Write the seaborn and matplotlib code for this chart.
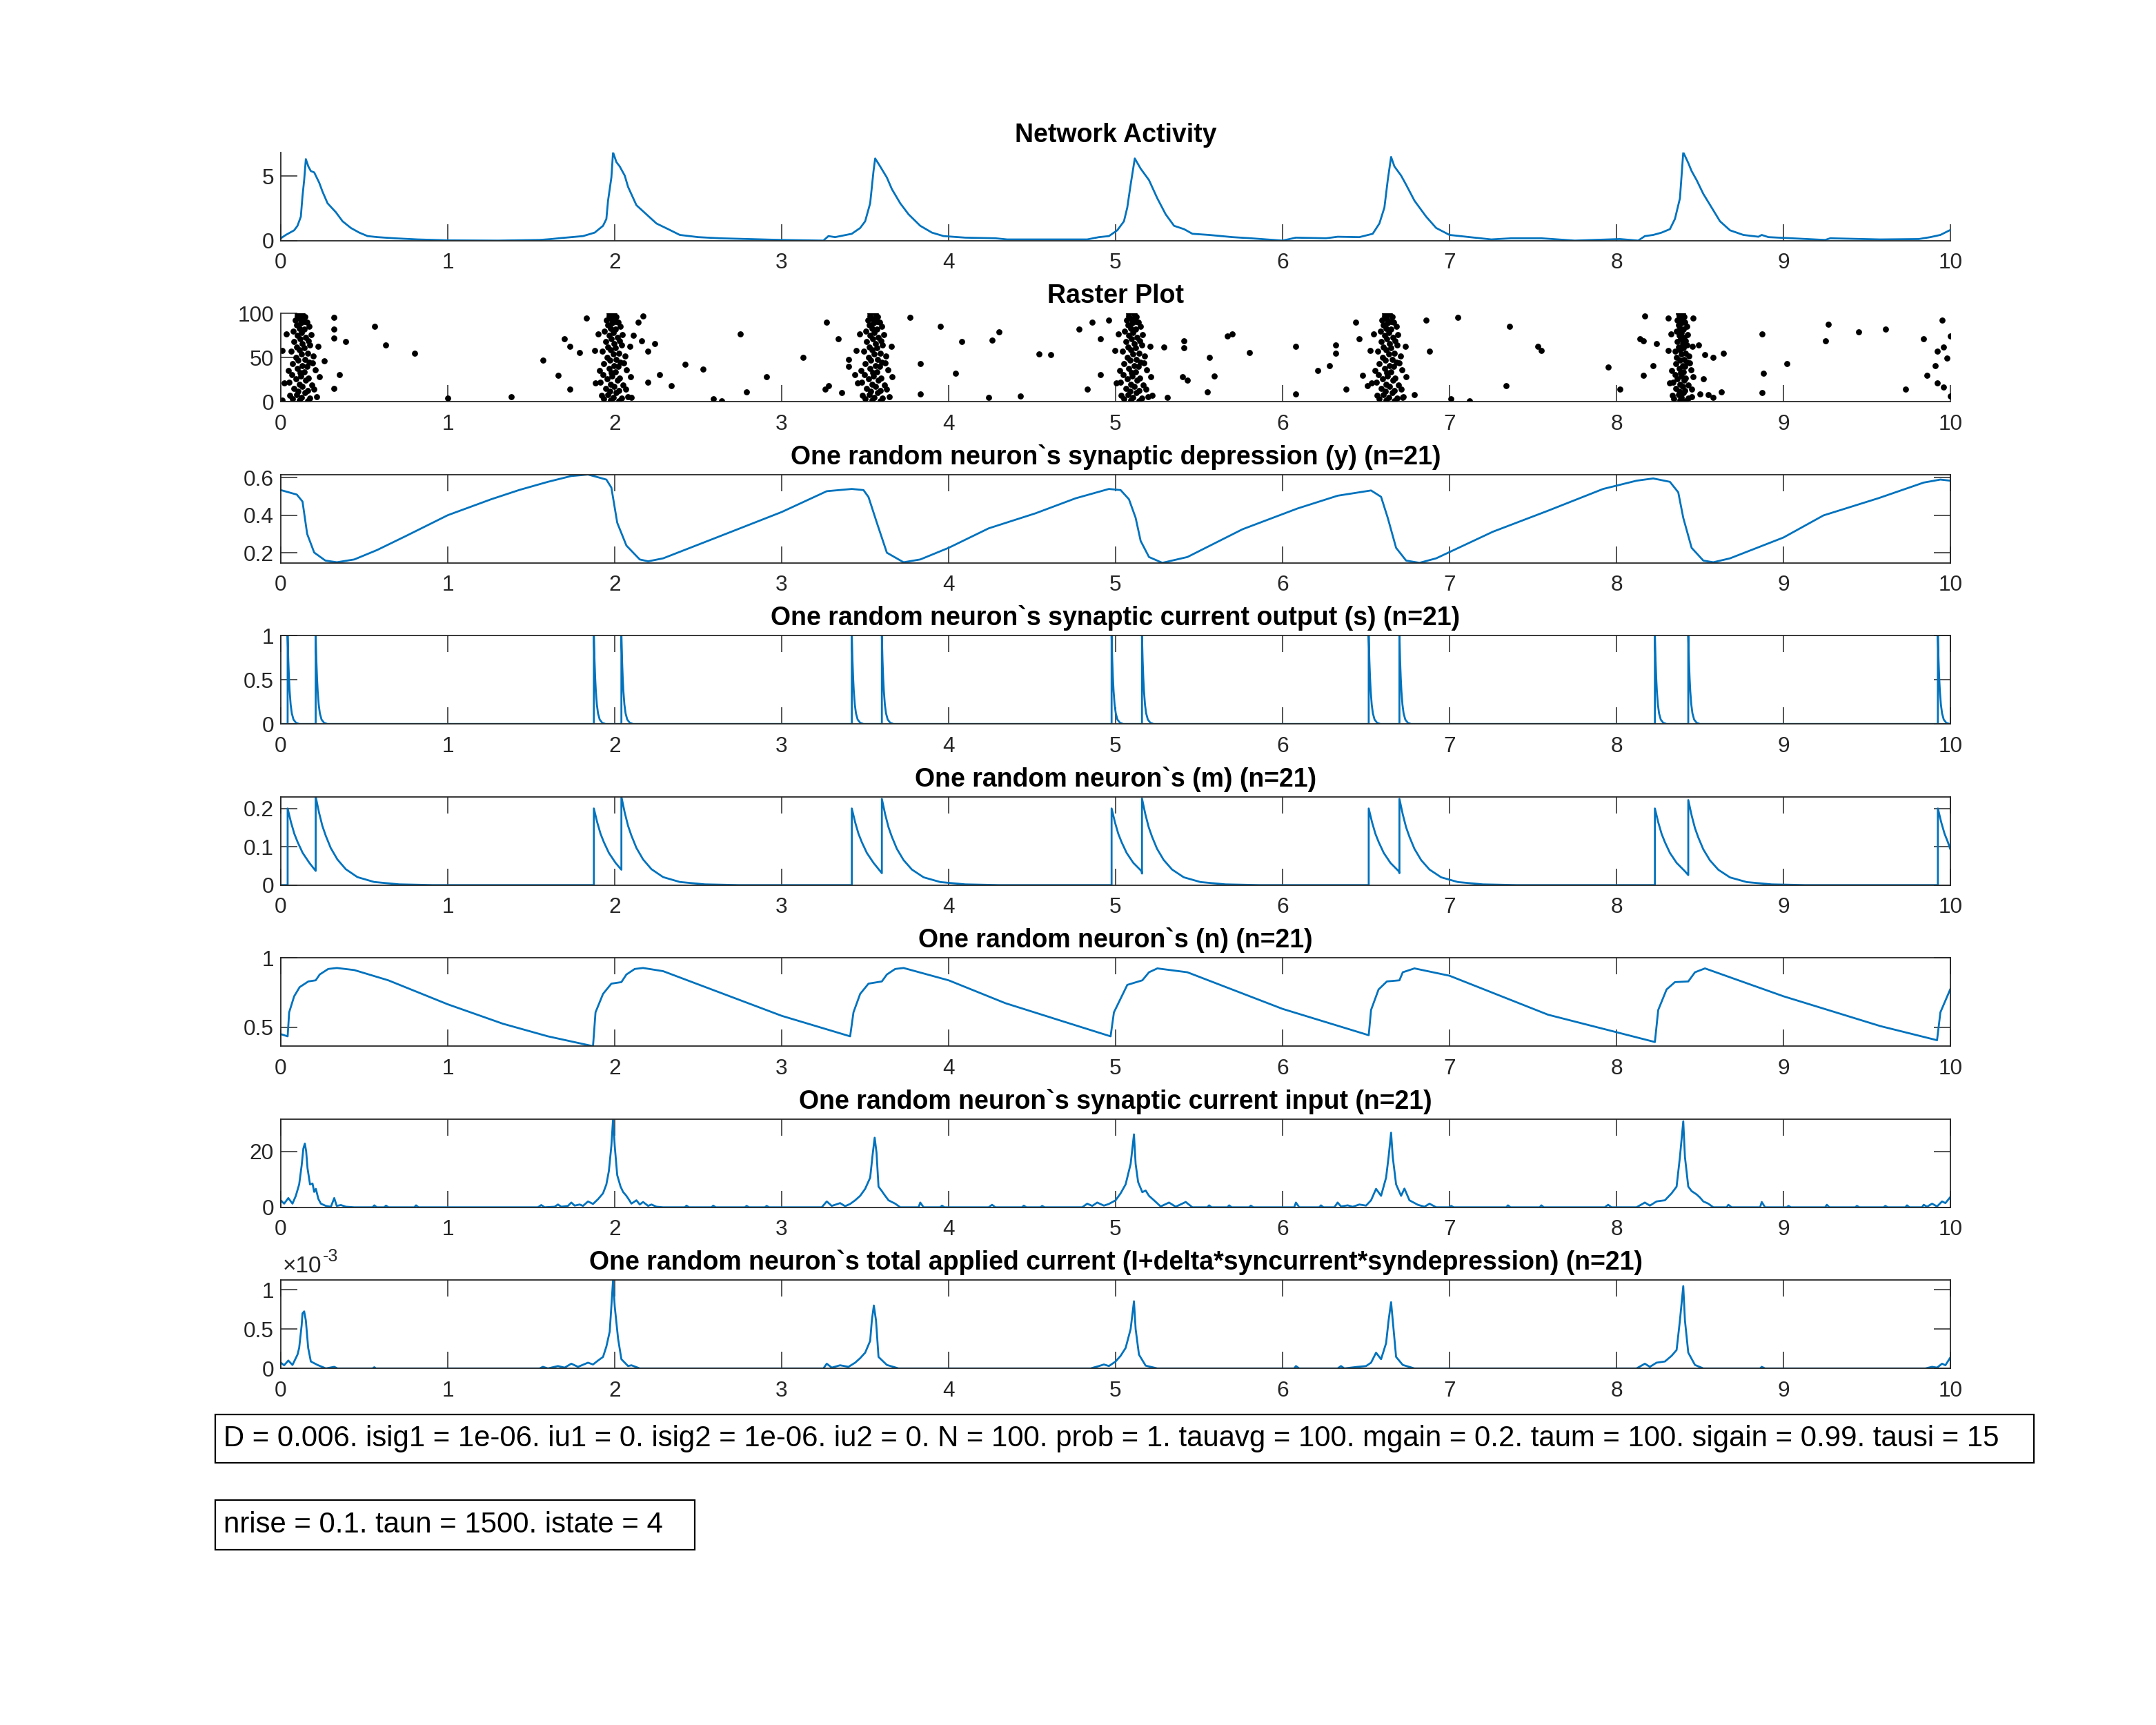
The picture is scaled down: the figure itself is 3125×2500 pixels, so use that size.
import matplotlib
matplotlib.use("Agg")
import matplotlib.pyplot as plt
import seaborn as sns
import pandas as pd
from matplotlib.patches import Rectangle

sns.set_style("white")
plt.rcParams["font.family"] = ["Liberation Sans", "DejaVu Sans"]

LINE = "#0072BD"
AXC = "#262626"
TICK_FS = 11.4
TITLE_FS = 13.5
BOX_FS = 15.1

# ---------------- data ----------------
# network activity
act_t = [0.00, 0.03, 0.08, 0.10, 0.12, 0.13, 0.14, 0.15, 0.165, 0.18, 0.20, 0.23, 0.25, 0.28, 0.33, 0.37,
         0.42, 0.47, 0.52, 0.58, 0.68, 0.82, 1.00, 1.30, 1.55, 1.62, 1.68, 1.74, 1.81, 1.88, 1.93, 1.95,
         1.96, 1.98, 1.99, 2.01, 2.03, 2.06, 2.08, 2.13, 2.19, 2.25, 2.32, 2.39, 2.50, 2.63, 2.80, 3.00,
         3.25, 3.28, 3.32, 3.37, 3.42, 3.47, 3.50, 3.53, 3.55, 3.56, 3.59, 3.63, 3.66, 3.71, 3.76, 3.83,
         3.90, 3.97, 4.10, 4.28, 4.35, 4.69, 4.83, 4.90, 4.96, 5.01, 5.05, 5.07, 5.09, 5.115, 5.15, 5.20,
         5.25, 5.30, 5.35, 5.41, 5.46, 5.56, 5.70, 5.81, 6.00, 6.08, 6.26, 6.33, 6.46, 6.54, 6.58, 6.61,
         6.63, 6.65, 6.67, 6.71, 6.74, 6.79, 6.86, 6.92, 7.00, 7.12, 7.25, 7.37, 7.55, 7.75, 8.02, 8.13,
         8.17, 8.22, 8.27, 8.32, 8.35, 8.38, 8.40, 8.43, 8.45, 8.48, 8.52, 8.57, 8.62, 8.68, 8.76, 8.85,
         8.87, 8.91, 9.05, 9.25, 9.28, 9.58, 9.81, 9.88, 9.94, 10.00]
act_v = [0.18, 0.44, 0.80, 1.15, 1.86, 3.46, 4.70, 6.33, 5.76, 5.40, 5.30, 4.50, 3.80, 2.90, 2.20, 1.50,
         0.98, 0.62, 0.35, 0.27, 0.18, 0.09, 0.02, 0.00, 0.05, 0.12, 0.20, 0.27, 0.35, 0.62, 1.15, 1.68,
         3.10, 4.90, 6.86, 6.10, 5.76, 5.05, 4.17, 2.75, 2.04, 1.33, 0.89, 0.44, 0.27, 0.18, 0.12, 0.05,
         0.00, 0.35, 0.27, 0.40, 0.53, 0.98, 1.50, 2.90, 5.40, 6.38, 5.76, 4.90, 4.00, 2.90, 2.04, 1.15,
         0.62, 0.35, 0.23, 0.18, 0.09, 0.09, 0.09, 0.27, 0.35, 0.80, 1.50, 2.57, 4.34, 6.38, 5.59, 4.70,
         3.28, 2.04, 1.15, 0.89, 0.53, 0.44, 0.27, 0.18, 0.00, 0.23, 0.18, 0.30, 0.27, 0.53, 1.33, 2.57,
         4.70, 6.50, 5.76, 5.05, 4.34, 3.10, 1.86, 0.98, 0.44, 0.27, 0.09, 0.18, 0.18, 0.00, 0.12, 0.00,
         0.35, 0.44, 0.62, 0.89, 1.68, 3.28, 6.86, 6.03, 5.40, 4.70, 3.63, 2.57, 1.50, 0.80, 0.44, 0.30,
         0.44, 0.27, 0.18, 0.05, 0.18, 0.09, 0.12, 0.27, 0.44, 0.83]

# raster: neuron ids used in each burst column, spike times per burst, and stray spikes
col_n = [99, 97, 96, 94, 92, 90, 89, 87, 85, 83, 82, 80, 78, 76, 75, 73, 71, 69, 68, 66,
         64, 62, 61, 59, 57, 55, 54, 52, 50, 48, 47, 45, 43, 41, 40, 38, 36, 34, 33, 31,
         29, 27, 26, 24, 22, 20, 19, 17, 15, 13, 12, 10, 8, 6, 5, 3, 1, 2, 100, 91,
         77, 63, 58, 44, 35, 28, 21, 14, 7, 4]
burst1_t = [0.13, 0.10, 0.145, 0.115, 0.085, 0.155, 0.12, 0.095, 0.17, 0.11,
            0.14, 0.075, 0.125, 0.18, 0.10, 0.15, 0.115, 0.165, 0.08, 0.13,
            0.175, 0.095, 0.14, 0.11, 0.06, 0.16, 0.125, 0.195, 0.09, 0.145,
            0.105, 0.17, 0.07, 0.13, 0.155, 0.10, 0.205, 0.14, 0.115, 0.065,
            0.12, 0.165, 0.09, 0.15, 0.05, 0.11, 0.185, 0.13, 0.08, 0.16,
            0.105, 0.145, 0.095, 0.215, 0.125, 0.07, 0.16, 0.11, 0.10, 0.14,
            0.035, 0.225, 0.01, 0.19, 0.045, 0.23, 0.02, 0.20, 0.055, 0.175]
burst2_t = [1.995, 1.965, 2.01, 1.98, 1.95, 2.02, 1.985, 1.96, 2.035, 1.975,
            2.005, 1.94, 1.99, 2.045, 1.965, 2.015, 1.98, 2.03, 1.945, 1.995,
            2.04, 1.96, 2.005, 1.975, 1.925, 2.025, 1.99, 2.06, 1.955, 2.01,
            1.97, 2.035, 1.935, 1.995, 2.02, 1.965, 2.07, 2.005, 1.98, 1.93,
            1.985, 2.03, 1.955, 2.015, 1.915, 1.975, 2.05, 1.995, 1.945, 2.025,
            1.97, 2.01, 1.96, 2.08, 1.99, 1.935, 2.025, 1.975, 1.965, 2.005,
            1.90, 2.09, 1.88, 2.055, 1.91, 2.095, 1.885, 2.065, 1.92, 2.04]
burst3_t = [3.56, 3.53, 3.575, 3.545, 3.515, 3.585, 3.55, 3.525, 3.60, 3.54,
            3.57, 3.505, 3.555, 3.61, 3.53, 3.58, 3.545, 3.595, 3.51, 3.56,
            3.605, 3.525, 3.57, 3.54, 3.49, 3.59, 3.555, 3.625, 3.52, 3.575,
            3.535, 3.60, 3.50, 3.56, 3.585, 3.53, 3.635, 3.57, 3.545, 3.495,
            3.55, 3.595, 3.52, 3.58, 3.48, 3.54, 3.615, 3.56, 3.51, 3.59,
            3.535, 3.575, 3.525, 3.645, 3.555, 3.50, 3.59, 3.54, 3.53, 3.57,
            3.465, 3.655, 3.445, 3.62, 3.475, 3.66, 3.455, 3.63, 3.485, 3.605]
burst4_t = [5.11, 5.08, 5.125, 5.095, 5.065, 5.135, 5.10, 5.075, 5.15, 5.09,
            5.12, 5.055, 5.105, 5.16, 5.08, 5.13, 5.095, 5.145, 5.06, 5.11,
            5.155, 5.075, 5.12, 5.09, 5.04, 5.14, 5.105, 5.175, 5.07, 5.125,
            5.085, 5.15, 5.05, 5.11, 5.135, 5.08, 5.185, 5.12, 5.095, 5.045,
            5.10, 5.145, 5.07, 5.13, 5.03, 5.09, 5.165, 5.11, 5.06, 5.14,
            5.085, 5.125, 5.075, 5.195, 5.105, 5.05, 5.14, 5.09, 5.08, 5.12,
            5.015, 5.205, 4.995, 5.17, 5.025, 5.21, 5.005, 5.18, 5.035, 5.155]
burst5_t = [6.64, 6.61, 6.655, 6.625, 6.595, 6.665, 6.63, 6.605, 6.68, 6.62,
            6.65, 6.585, 6.635, 6.69, 6.61, 6.66, 6.625, 6.675, 6.59, 6.64,
            6.685, 6.605, 6.65, 6.62, 6.57, 6.67, 6.635, 6.705, 6.60, 6.655,
            6.615, 6.68, 6.58, 6.64, 6.665, 6.61, 6.715, 6.65, 6.625, 6.575,
            6.63, 6.675, 6.60, 6.66, 6.56, 6.62, 6.695, 6.64, 6.59, 6.67,
            6.615, 6.655, 6.605, 6.725, 6.635, 6.58, 6.67, 6.62, 6.61, 6.65,
            6.545, 6.735, 6.525, 6.70, 6.555, 6.74, 6.535, 6.71, 6.565, 6.685]
burst6_t = [8.395, 8.375, 8.405, 8.385, 8.365, 8.41, 8.39, 8.37, 8.42, 8.38,
            8.40, 8.36, 8.39, 8.425, 8.375, 8.405, 8.385, 8.415, 8.365, 8.395,
            8.42, 8.37, 8.40, 8.38, 8.35, 8.415, 8.39, 8.435, 8.36, 8.405,
            8.38, 8.42, 8.355, 8.395, 8.41, 8.375, 8.445, 8.40, 8.385, 8.35,
            8.39, 8.415, 8.365, 8.405, 8.34, 8.38, 8.43, 8.395, 8.355, 8.41,
            8.375, 8.40, 8.37, 8.45, 8.39, 8.345, 8.415, 8.38, 8.37, 8.40,
            8.325, 8.455, 8.31, 8.44, 8.33, 8.46, 8.32, 8.45, 8.335, 8.43]
stray_t = [0.32, 0.32, 0.32, 0.39, 0.56, 0.63, 0.80, 0.26, 0.35, 0.32, 0.01,
           1.00, 1.38, 1.57, 1.66, 1.73, 1.70, 1.73, 1.79, 1.83, 2.17, 2.14, 2.11, 2.16, 2.24, 2.20, 2.27, 2.20, 2.34, 2.10,
           2.42, 2.53, 2.59, 2.64, 2.75, 2.79, 2.91, 3.13, 3.27, 3.34, 3.26, 3.28, 3.36, 3.40, 3.40, 3.44,
           3.77, 3.95, 3.83, 3.83, 4.04, 4.08, 4.26, 4.30, 4.24, 4.43, 4.54, 4.61, 4.78, 4.83, 4.91, 4.91, 4.86, 4.96,
           5.41, 5.41, 5.29, 5.31, 5.22, 5.40, 5.43, 5.56, 5.59, 5.55, 5.67, 5.70, 5.80, 6.08, 6.08, 6.21, 6.28, 6.32, 6.32, 6.38,
           6.44, 6.46, 6.48, 6.51, 6.88, 6.86, 6.79, 6.72, 7.05, 7.01, 7.12, 7.36, 7.34, 7.53, 7.55, 7.95, 8.02,
           8.17, 8.14, 8.16, 8.16, 8.24, 8.22, 8.31, 8.46, 8.49, 8.53, 8.58, 8.64, 8.52, 8.50, 8.55, 8.58, 8.63, 8.87, 8.88, 8.87,
           9.02, 9.25, 9.27, 9.45, 9.61, 9.73, 9.84, 9.86, 9.91, 9.92, 9.92, 9.95, 9.96, 9.96, 9.98, 10.0, 10.0]
stray_n = [95.6, 82.5, 72, 68, 85, 64, 55, 46, 31, 15, 1.5,
           4, 5.5, 47, 30, 14, 71, 63, 56, 95, 97, 90, 75, 69, 66, 57, 31, 22, 18.5, 5,
           42, 37, 3, 1, 76.5, 11, 28, 50, 90, 71, 14, 18, 10, 48, 40, 31,
           95.6, 85, 43, 9, 32, 68, 70, 79, 5, 6.5, 54, 53.5, 82, 14, 71, 31, 90, 92,
           69, 61, 62, 5, 7, 28, 24, 50, 29, 11, 74, 76.5, 56, 63, 9, 35.5, 41, 64, 55, 14,
           90, 71, 29.5, 18.5, 57, 92, 8, 5, 95.6, 3.4, 1, 85, 18.5, 63, 58, 39, 14,
           97, 71, 69, 29.5, 66, 41, 95, 95, 64, 53.5, 50, 55, 26, 9, 8, 5, 11, 76.5, 32, 10,
           43, 69, 88, 79, 82.5, 14, 71, 29.5, 40.5, 57, 21, 92, 62, 16.5, 49, 74, 6.5]

# synaptic depression y
dep_t = [0.00, 0.096, 0.13, 0.158, 0.20, 0.267, 0.336, 0.44, 0.576, 0.747, 1.00, 1.26, 1.43, 1.60, 1.74, 1.84,
         1.95, 1.98, 2.015, 2.07, 2.15, 2.20, 2.29, 2.63, 3.00, 3.27, 3.42, 3.49, 3.52, 3.57, 3.63, 3.73,
         3.83, 4.00, 4.24, 4.52, 4.76, 4.96, 5.03, 5.08, 5.12, 5.15, 5.20, 5.28, 5.43, 5.76, 6.09, 6.33,
         6.53, 6.59, 6.63, 6.68, 6.74, 6.82, 6.92, 7.26, 7.59, 7.92, 8.12, 8.22, 8.32, 8.37, 8.40, 8.45,
         8.52, 8.58, 8.68, 9.00, 9.24, 9.57, 9.84, 9.94, 10.00]
dep_v = [0.534, 0.510, 0.473, 0.300, 0.201, 0.158, 0.149, 0.164, 0.214, 0.288, 0.400, 0.485, 0.535, 0.578, 0.609, 0.617,
         0.590, 0.547, 0.360, 0.238, 0.164, 0.154, 0.170, 0.288, 0.417, 0.528, 0.540, 0.534, 0.497, 0.360, 0.200, 0.149,
         0.164, 0.226, 0.330, 0.410, 0.490, 0.540, 0.534, 0.485, 0.386, 0.263, 0.177, 0.146, 0.177, 0.325, 0.436, 0.504,
         0.532, 0.498, 0.386, 0.226, 0.158, 0.146, 0.170, 0.312, 0.424, 0.540, 0.584, 0.596, 0.578, 0.522, 0.386, 0.226,
         0.158, 0.149, 0.170, 0.281, 0.399, 0.491, 0.574, 0.590, 0.584]

# spike times of the chosen neuron (s and m jump at these)
spike_first = [0.041, 1.875, 3.42, 4.976, 6.516, 8.23, 9.925]
spike_second = [0.209, 2.04, 3.60, 5.158, 6.70, 8.43]
m_before_second = [0.037, 0.040, 0.031, 0.030, 0.031, 0.026]
m_peak_second = [0.2306, 0.2306, 0.225, 0.226, 0.225, 0.222]
m_peak_first = 0.2
m_end_value = 0.093
# decay shapes read from one spike (time after spike, fraction of the peak)
s_decay_dt = [0.0, 0.004, 0.008, 0.012, 0.018, 0.025, 0.035, 0.05, 0.07]
s_decay_val = [1.0, 0.72, 0.52, 0.37, 0.22, 0.12, 0.05, 0.013, 0.0]
m_decay_dt = [0.0, 0.02, 0.04, 0.06, 0.09, 0.13, 0.18, 0.25, 0.35, 0.5, 0.7]
m_decay_frac = [1.0, 0.82, 0.67, 0.56, 0.42, 0.29, 0.18, 0.09, 0.035, 0.008, 0.0]

# gating variable n
n_t = [0.00, 0.041, 0.05, 0.08, 0.113, 0.165, 0.209, 0.233, 0.284, 0.336, 0.44, 0.644, 1.00, 1.33, 1.60, 1.87,
       1.885, 1.93, 1.98, 2.04, 2.07, 2.12, 2.17, 2.29, 3.00, 3.41, 3.43, 3.47, 3.52, 3.60, 3.63, 3.68,
       3.73, 4.00, 4.34, 4.69, 4.97, 4.99, 5.07, 5.16, 5.20, 5.25, 5.43, 6.00, 6.516, 6.53, 6.575, 6.625,
       6.70, 6.72, 6.79, 7.00, 7.59, 8.23, 8.25, 8.30, 8.35, 8.43, 8.47, 8.53, 9.00, 9.58, 9.92, 9.94, 10.00]
n_v = [0.450, 0.434, 0.607, 0.723, 0.789, 0.830, 0.838, 0.880, 0.920, 0.927, 0.912, 0.838, 0.665, 0.525, 0.434, 0.363,
       0.607, 0.740, 0.814, 0.825, 0.880, 0.920, 0.927, 0.904, 0.582, 0.434, 0.607, 0.740, 0.814, 0.830, 0.880, 0.920,
       0.927, 0.838, 0.673, 0.540, 0.434, 0.607, 0.805, 0.838, 0.896, 0.924, 0.896, 0.632, 0.442, 0.624, 0.772, 0.830,
       0.838, 0.896, 0.924, 0.871, 0.590, 0.393, 0.624, 0.772, 0.825, 0.830, 0.896, 0.924, 0.723, 0.508, 0.406, 0.607, 0.776]

# synaptic current input
syn_t = [0.00, 0.02, 0.045, 0.07, 0.09, 0.11, 0.125, 0.135, 0.144, 0.152, 0.16, 0.175, 0.19, 0.20, 0.21, 0.225, 0.24,
         0.27, 0.30, 0.32, 0.335, 0.36, 0.39, 0.44, 0.55, 0.56, 0.575, 0.62, 0.63, 0.645, 0.80, 0.81, 0.825,
         1.54, 1.56, 1.58, 1.64, 1.66, 1.68, 1.72, 1.74, 1.76, 1.79, 1.81, 1.84, 1.87, 1.90, 1.93, 1.95, 1.965,
         1.98, 1.99, 2.00, 2.015, 2.035, 2.05, 2.07, 2.09, 2.10, 2.13, 2.15, 2.17, 2.20, 2.22, 2.25, 2.29,
         2.42, 2.43, 2.445, 2.58, 2.59, 2.605, 2.78, 2.79, 2.805, 2.90, 2.91, 2.925,
         3.24, 3.27, 3.30, 3.35, 3.38, 3.41, 3.44, 3.47, 3.50, 3.53, 3.545, 3.557, 3.568, 3.58, 3.60, 3.615, 3.64,
         3.68, 3.71, 3.82, 3.83, 3.85, 3.95, 3.96, 3.975, 4.24, 4.26, 4.28, 4.44, 4.45, 4.465, 4.55, 4.56, 4.575,
         4.80, 4.83, 4.86, 4.89, 4.93, 4.96, 5.00, 5.03, 5.06, 5.09, 5.11, 5.12, 5.135, 5.16, 5.18, 5.20, 5.23,
         5.27, 5.32, 5.36, 5.42, 5.46, 5.55, 5.56, 5.575, 5.67, 5.68, 5.695, 5.80, 5.81, 5.825,
         6.07, 6.08, 6.10, 6.22, 6.23, 6.245, 6.31, 6.33, 6.35, 6.39, 6.42, 6.46, 6.50,
         6.53, 6.56, 6.59, 6.62, 6.635, 6.65, 6.66, 6.68, 6.71, 6.73, 6.76, 6.81, 6.85, 6.88, 6.92,
         7.00, 7.01, 7.025, 7.34, 7.35, 7.365, 7.54, 7.55, 7.565, 7.93, 7.95, 7.97,
         8.12, 8.17, 8.20, 8.24, 8.29, 8.33, 8.36, 8.38, 8.40, 8.41, 8.43, 8.45, 8.48, 8.50, 8.52, 8.55, 8.58,
         8.66, 8.67, 8.69, 8.86, 8.87, 8.89, 9.02, 9.03, 9.045, 9.25, 9.26, 9.275, 9.43, 9.44, 9.455,
         9.60, 9.61, 9.625, 9.73, 9.74, 9.755, 9.83, 9.84, 9.86, 9.89, 9.92, 9.95, 9.97, 10.00]
syn_v = [2.5, 1.3, 3.3, 1.3, 4.1, 8.2, 15.0, 21.0, 22.8, 20.0, 14.0, 8.2, 8.5, 5.5, 6.6, 3.0, 1.3,
         0.5, 0.2, 3.3, 0.5, 0.8, 0.2, 0.0, 0.0, 0.7, 0.0, 0.0, 0.6, 0.0, 0.0, 0.7, 0.0,
         0.0, 0.8, 0.0, 0.2, 1.0, 0.2, 0.5, 1.7, 0.6, 1.0, 0.5, 2.1, 1.2, 2.9, 5.0, 8.2, 13.0,
         22.0, 31.6, 22.0, 11.5, 7.4, 5.5, 4.1, 2.3, 1.3, 2.5, 1.0, 1.9, 0.5, 1.0, 0.2, 0.0,
         0.0, 0.6, 0.0, 0.0, 0.6, 0.0, 0.0, 0.5, 0.0, 0.0, 0.5, 0.0,
         0.0, 2.1, 0.5, 1.5, 0.4, 1.2, 2.5, 4.1, 6.6, 10.6, 19.0, 24.9, 19.6, 7.4, 5.8, 4.5, 2.5,
         1.3, 0.0, 0.0, 1.7, 0.0, 0.0, 0.6, 0.0, 0.0, 0.9, 0.0, 0.0, 0.6, 0.0, 0.0, 0.5, 0.0,
         0.0, 1.3, 0.5, 1.7, 0.6, 1.2, 2.5, 5.0, 8.2, 15.5, 26.1, 15.5, 9.0, 5.4, 6.0, 4.1, 2.5,
         0.3, 1.7, 0.2, 1.9, 0.0, 0.0, 0.7, 0.0, 0.0, 0.7, 0.0, 0.0, 0.6, 0.0,
         0.0, 1.7, 0.0, 0.0, 0.7, 0.0, 0.0, 1.7, 0.3, 0.7, 0.2, 1.0, 0.6,
         2.5, 6.6, 4.1, 10.6, 18.0, 26.7, 18.0, 8.2, 4.1, 6.7, 2.5, 0.9, 0.2, 1.3, 0.0,
         0.0, 0.5, 0.0, 0.0, 0.7, 0.0, 0.0, 0.7, 0.0, 0.0, 0.9, 0.0,
         0.0, 1.7, 0.6, 2.1, 2.5, 5.0, 7.4, 18.0, 30.8, 18.0, 7.4, 5.8, 4.6, 3.5, 2.1, 1.3, 0.0,
         0.0, 0.9, 0.0, 0.0, 1.9, 0.0, 0.0, 0.5, 0.0, 0.0, 0.9, 0.0, 0.0, 0.5, 0.0,
         0.0, 0.5, 0.0, 0.0, 0.7, 0.0, 0.0, 0.9, 0.2, 1.3, 0.3, 2.1, 1.5, 3.7]

# total applied current (x 1e-3)
tot_t = [0.00, 0.02, 0.045, 0.07, 0.10, 0.11, 0.125, 0.13, 0.14, 0.15, 0.164, 0.18, 0.22, 0.27, 0.32, 0.34,
         0.55, 0.56, 0.57, 1.55, 1.57, 1.60, 1.66, 1.70, 1.74, 1.78, 1.84, 1.87, 1.90, 1.93, 1.95, 1.97,
         1.98, 1.99, 2.00, 2.02, 2.04, 2.08, 2.10, 2.15,
         3.25, 3.27, 3.30, 3.35, 3.40, 3.44, 3.47, 3.50, 3.53, 3.54, 3.552, 3.565, 3.58, 3.63, 3.70,
         4.85, 4.90, 4.93, 4.96, 5.00, 5.03, 5.06, 5.09, 5.11, 5.12, 5.14, 5.18, 5.25,
         6.07, 6.08, 6.10, 6.33, 6.35, 6.37, 6.45, 6.50, 6.53, 6.56, 6.59, 6.62, 6.635, 6.65, 6.66, 6.68, 6.72, 6.79,
         8.12, 8.17, 8.20, 8.24, 8.29, 8.33, 8.36, 8.38, 8.40, 8.41, 8.43, 8.47, 8.52,
         8.86, 8.87, 8.89, 9.85, 9.89, 9.92, 9.95, 9.97, 10.00]
tot_v = [0.073, 0.040, 0.100, 0.044, 0.175, 0.260, 0.550, 0.700, 0.725, 0.610, 0.260, 0.088, 0.044, 0.0, 0.020, 0.0,
         0.0, 0.015, 0.0, 0.0, 0.020, 0.0, 0.030, 0.010, 0.060, 0.020, 0.073, 0.050, 0.100, 0.146, 0.278, 0.468,
         0.790, 1.123, 0.790, 0.380, 0.117, 0.030, 0.040, 0.0,
         0.0, 0.060, 0.010, 0.040, 0.020, 0.073, 0.130, 0.200, 0.350, 0.610, 0.800, 0.610, 0.146, 0.044, 0.0,
         0.0, 0.030, 0.050, 0.030, 0.088, 0.160, 0.260, 0.500, 0.854, 0.500, 0.175, 0.035, 0.0,
         0.0, 0.030, 0.0, 0.0, 0.030, 0.0, 0.020, 0.030, 0.073, 0.200, 0.117, 0.320, 0.610, 0.842, 0.610, 0.146, 0.044, 0.0,
         0.0, 0.060, 0.020, 0.073, 0.088, 0.160, 0.234, 0.610, 1.047, 0.610, 0.200, 0.044, 0.0,
         0.0, 0.020, 0.0, 0.0, 0.020, 0.010, 0.060, 0.040, 0.140]

titles = [
    "Network Activity",
    "Raster Plot",
    "One random neuron`s synaptic depression (y) (n=21)",
    "One random neuron`s synaptic current output (s) (n=21)",
    "One random neuron`s (m) (n=21)",
    "One random neuron`s (n) (n=21)",
    "One random neuron`s synaptic current input (n=21)",
    "One random neuron`s total applied current (I+delta*syncurrent*syndepression) (n=21)",
]
param_line1 = ("D = 0.006. isig1 = 1e-06. iu1 = 0. isig2 = 1e-06. iu2 = 0. N = 100. prob = 1. "
               "tauavg = 100. mgain = 0.2. taum = 100. sigain = 0.99. tausi = 15")
param_line2 = "nrise = 0.1. taun = 1500. istate = 4"

# ---------------- assemble the s and m traces from the spike times ----------------
s_t, s_v = [0.0], [0.0]
for ts in sorted(spike_first + spike_second):
    s_t += [ts] + [ts + d for d in s_decay_dt]
    s_v += [0.0] + s_decay_val
s_t.append(10.0)
s_v.append(0.0)

m_t, m_v = [0.0], [0.0]
for i, t1 in enumerate(spike_first):
    t2 = spike_second[i] if i < len(spike_second) else 10.0
    m_t += [t1]
    m_v += [0.0]
    for d, f in zip(m_decay_dt, m_decay_frac):
        if t1 + d < t2:
            m_t.append(t1 + d)
            m_v.append(m_peak_first * f)
    if i >= len(spike_second):
        m_t.append(10.0)
        m_v.append(m_end_value)
        break
    nxt = spike_first[i + 1]
    m_t += [t2]
    m_v += [m_before_second[i]]
    for d, f in zip(m_decay_dt, m_decay_frac):
        if t2 + d < nxt:
            m_t.append(t2 + d)
            m_v.append(m_peak_second[i] * f)

raster = pd.DataFrame({
    "t": burst1_t + burst2_t + burst3_t + burst4_t + burst5_t + burst6_t + stray_t,
    "n": col_n * 6 + stray_n,
})

# ---------------- figure ----------------
fig = plt.figure(figsize=(15.625, 12.5), dpi=200)
W, H = 3125.0, 2500.0
axes = []
for k in range(8):
    top_px = 220.7 + 233.5 * k
    ax = fig.add_axes([407 / W, 1 - (top_px + 128) / H, 2420 / W, 128 / H])
    axes.append(ax)


def style(ax, boxed, yt, ytl, ylim):
    ax.set_xlim(0, 10)
    ax.set_ylim(*ylim)
    ax.set_xticks(range(11))
    ax.set_xticklabels([str(i) for i in range(11)])
    ax.set_yticks(yt)
    ax.set_yticklabels(ytl)
    ax.set_xlabel("")
    ax.set_ylabel("")
    for side in ["top", "right"]:
        ax.spines[side].set_visible(boxed)
    for sp in ax.spines.values():
        sp.set_linewidth(0.65)
        sp.set_color(AXC)
    ax.tick_params(direction="in", length=8.6, width=0.55, colors=AXC, labelsize=TICK_FS,
                   bottom=True, left=True, top=boxed, right=boxed)
    ax.tick_params(axis="x", pad=6.3)
    ax.tick_params(axis="y", pad=3.6)


def trace(ax, x, y):
    sns.lineplot(x=x, y=y, ax=ax, color=LINE, linewidth=1.0, estimator=None, sort=False, legend=False)


trace(axes[0], act_t, act_v)
style(axes[0], False, [0, 5], ["0", "5"], (0, 6.86))

sns.scatterplot(data=raster, x="t", y="n", ax=axes[1], color="black", s=10, linewidth=0, legend=False)
style(axes[1], False, [0, 50, 100], ["0", "50", "100"], (0, 100))

trace(axes[2], dep_t, dep_v)
style(axes[2], True, [0.2, 0.4, 0.6], ["0.2", "0.4", "0.6"], (0.146, 0.617))

trace(axes[3], s_t, s_v)
style(axes[3], True, [0, 0.5, 1], ["0", "0.5", "1"], (0, 1))

trace(axes[4], m_t, m_v)
style(axes[4], True, [0, 0.1, 0.2], ["0", "0.1", "0.2"], (0, 0.2306))

trace(axes[5], n_t, n_v)
style(axes[5], True, [0.5, 1], ["0.5", "1"], (0.363, 1.0))

trace(axes[6], syn_t, syn_v)
style(axes[6], True, [0, 20], ["0", "20"], (0, 31.6))

trace(axes[7], tot_t, tot_v)
style(axes[7], True, [0, 0.5, 1], ["0", "0.5", "1"], (0, 1.123))
# exponent label above the last axis
axes[7].text(0.001, 1.085, "\u00d710", transform=axes[7].transAxes, fontsize=12.0,
             color=AXC, ha="left", va="baseline")
axes[7].annotate("-3", xy=(0.001, 1.085), xycoords="axes fraction", xytext=(21.0, 6.0),
                 textcoords="offset points", fontsize=9.0, color=AXC, ha="left", va="baseline")

for ax, ttl in zip(axes, titles):
    ax.set_title(ttl, fontsize=TITLE_FS, fontweight="bold", pad=5.4, color="black")

# parameter text boxes
fig.add_artist(Rectangle((312 / W, 1 - 2120 / H), (2948 - 312) / W, 70 / H, transform=fig.transFigure,
                         fill=False, edgecolor="black", linewidth=0.8))
fig.add_artist(Rectangle((312 / W, 1 - 2246 / H), (1007 - 312) / W, 72 / H, transform=fig.transFigure,
                         fill=False, edgecolor="black", linewidth=0.8))
fig.text(324 / W, 1 - 2095.7 / H, param_line1, fontsize=BOX_FS, ha="left", va="baseline", color="black")
fig.text(324 / W, 1 - 2220.7 / H, param_line2, fontsize=BOX_FS, ha="left", va="baseline", color="black")

fig.savefig("out.png", dpi=200, facecolor="white")
